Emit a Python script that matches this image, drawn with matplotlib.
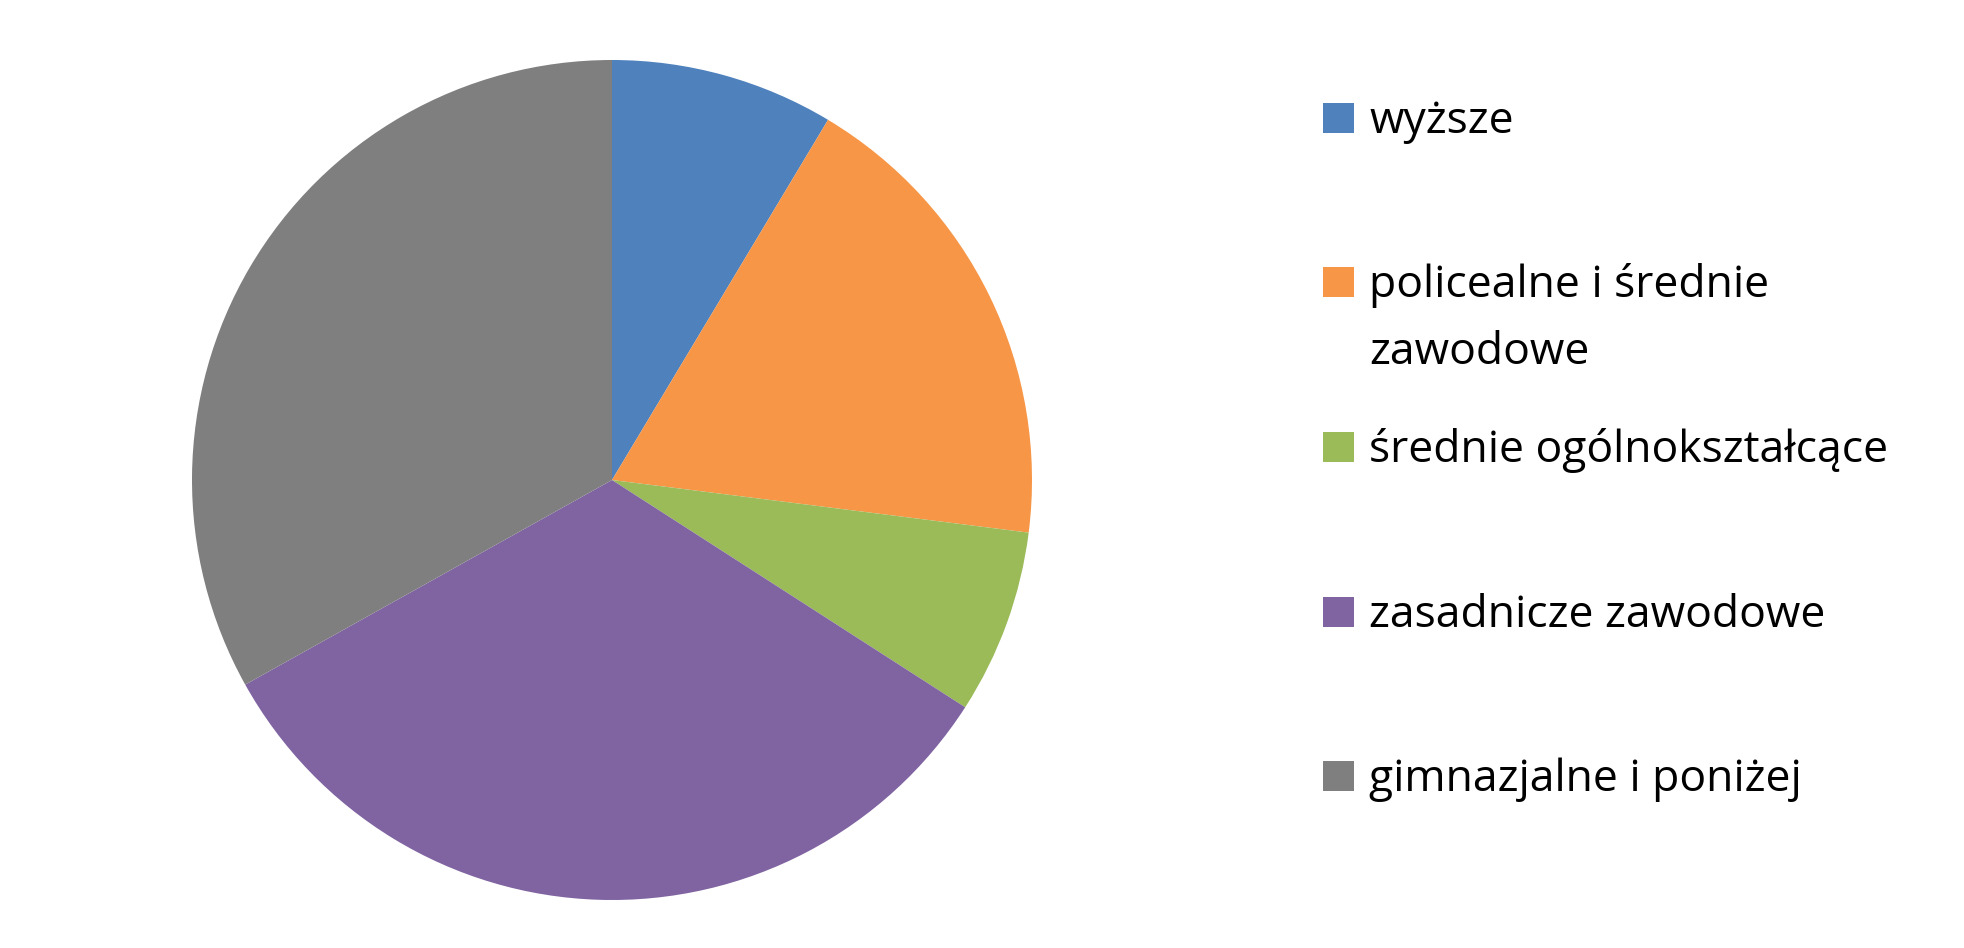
import matplotlib
matplotlib.use("Agg")
from matplotlib import pyplot as plt
from matplotlib.patches import Rectangle

labels = ["wyższe", "policealne i średnie\nzawodowe", "średnie ogólnokształcące",
          "zasadnicze zawodowe", "gimnazjalne i poniżej"]
shares = [8.6, 18.4, 7.1, 32.8, 33.1]
colors = ["#4F81BD", "#F79646", "#9BBB59", "#8064A2", "#7F7F7F"]

W, H = 1965, 948
fig = plt.figure(figsize=(W / 100, H / 100), dpi=100)

# pie: centre (612, 480) px, radius 420 px
cx, cy, r = 612, 480, 420
ax = fig.add_axes([(cx - r) / W, (H - cy - r) / H, 2 * r / W, 2 * r / H])
wedges, _ = ax.pie(shares, colors=colors, startangle=90, counterclock=False,
                   radius=1, wedgeprops=dict(linewidth=0))
ax.set_xlim(-1, 1)
ax.set_ylim(-1, 1)
ax.set_aspect("equal")
ax.axis("off")

# legend drawn by hand so the square sits on the first text line
FONT = "Open Sans"
FS = 32
tops = [103, 267, 432, 597, 761]
for w, lab, top in zip(wedges, labels, tops):
	fig.patches.append(Rectangle((1323 / W, 1 - (top + 30) / H), 31 / W, 30 / H,
	                             transform=fig.transFigure, facecolor=w.get_facecolor(),
	                             edgecolor="none"))
	lines = lab.split("\n")
	for k, line in enumerate(lines):
		fig.text(1369 / W, 1 - (top + 30 + 67 * k) / H, line, fontsize=FS,
		         family=FONT, va="baseline", ha="left", color="black")

fig.savefig("out.png", dpi=100)
